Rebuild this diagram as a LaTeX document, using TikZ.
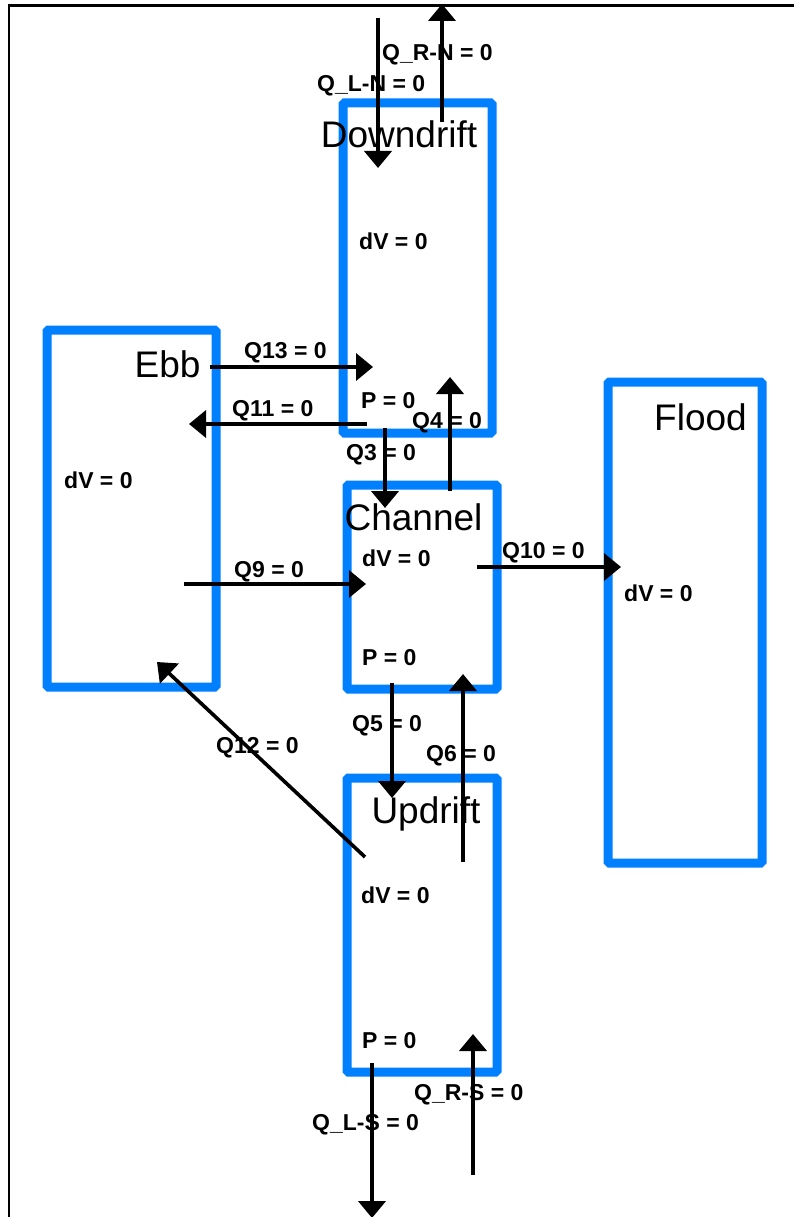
\documentclass[tikz,border=0pt]{standalone}
\usepackage{fontspec}
\setmainfont{Liberation Sans}
\usetikzlibrary{arrows.meta}
\definecolor{boxblue}{RGB}{0,128,255}
\tikzset{
  box/.style={draw=boxblue, line width=9pt, rectangle, inner sep=0pt, rounded corners=1.5pt},
  title/.style={anchor=base, inner sep=0pt, font=\fontsize{37}{40}\selectfont},
  lab/.style={anchor=base west, inner sep=0pt, font=\fontsize{23}{26}\selectfont\bfseries},
  flow/.style={draw=black, line width=3.6pt, -{Triangle[width=27pt,length=17pt]}},
  vflow/.style={flow, line width=4.6pt},
  frameline/.style={draw=black, line width=2.2pt}
}
\begin{document}
\begin{tikzpicture}[x=1pt,y=-1pt]
\useasboundingbox (0,0) rectangle (794,1217);
% frame
\coordinate (fl) at (9,1217);
\coordinate (fc) at (9,5.5);
\coordinate (fr) at (794,5.5);
\draw[frameline] (fl) -- (fc) -- (fr);
% boxes
\node[box, minimum width=149pt, minimum height=330pt] (down) at (417.5,268) {};
\node[box, minimum width=169pt, minimum height=357pt] (ebb) at (131.5,508.5) {};
\node[box, minimum width=150pt, minimum height=204pt] (chan) at (422,587) {};
\node[box, minimum width=150pt, minimum height=294pt] (up) at (422,925) {};
\node[box, minimum width=154pt, minimum height=481pt] (flood) at (685,622.5) {};
% titles
\node[title] (tdown) at (399,148) {Downdrift};
\node[title] (tebb) at (167.5,377) {Ebb};
\node[title] (tflood) at (700.5,430) {Flood};
\node[title] (tchan) at (413.5,530) {Channel};
\node[title] (tup) at (426,823) {Updrift};
% arrow coordinates
\coordinate (lnA) at (378,18);   \coordinate (lnB) at (378,168);
\coordinate (rnA) at (442,122);  \coordinate (rnB) at (442,4);
\coordinate (q13A) at (210,367); \coordinate (q13B) at (373,367);
\coordinate (q11A) at (367,424); \coordinate (q11B) at (189,424);
\coordinate (q3A) at (385,428);  \coordinate (q3B) at (385,508);
\coordinate (q4A) at (450,491);  \coordinate (q4B) at (450,377);
\coordinate (q9A) at (184,584);  \coordinate (q9B) at (366,584);
\coordinate (q10A) at (477,567); \coordinate (q10B) at (621,567);
\coordinate (q5A) at (392,683);  \coordinate (q5B) at (392,798);
\coordinate (q6A) at (463,862);  \coordinate (q6B) at (463,674);
\coordinate (q12A) at (365,857); \coordinate (q12B) at (157,662);
\coordinate (lsA) at (372,1063); \coordinate (lsB) at (372,1218);
\coordinate (rsA) at (473,1175); \coordinate (rsB) at (473,1034);
\draw[vflow] (lnA) -- (lnB);
\draw[vflow] (rnA) -- (rnB);
\draw[flow] (q13A) -- (q13B);
\draw[flow] (q11A) -- (q11B);
\draw[vflow] (q3A) -- (q3B);
\draw[vflow] (q4A) -- (q4B);
\draw[flow] (q9A) -- (q9B);
\draw[flow] (q10A) -- (q10B);
\draw[vflow] (q5A) -- (q5B);
\draw[vflow] (q6A) -- (q6B);
\draw[flow] (q12A) -- (q12B);
\draw[vflow] (lsA) -- (lsB);
\draw[vflow] (rsA) -- (rsB);
% labels
\node[lab] (lrn) at (382,61) {Q\_R-N = 0};
\node[lab] (lln) at (317,92) {Q\_L-N = 0};
\node[lab] (ldvd) at (359,249) {dV = 0};
\node[lab] (l13) at (244,358) {Q13 = 0};
\node[lab] (lpd) at (361,408) {P = 0};
\node[lab] (l11) at (232,416) {Q11 = 0};
\node[lab] (l4) at (412,428) {Q4 = 0};
\node[lab] (l3) at (346,460) {Q3 = 0};
\node[lab] (ldve) at (64,488) {dV = 0};
\node[lab] (ldvf) at (624,601) {dV = 0};
\node[lab] (ldvc) at (362,566) {dV = 0};
\node[lab] (l10) at (502,558) {Q10 = 0};
\node[lab] (l9) at (234,577) {Q9 = 0};
\node[lab] (lpc) at (362,665) {P = 0};
\node[lab] (l5) at (352,731) {Q5 = 0};
\node[lab] (l6) at (426,761) {Q6 = 0};
\node[lab] (l12) at (216,753) {Q12 = 0};
\node[lab] (ldvu) at (361,903) {dV = 0};
\node[lab] (lpu) at (362,1048) {P = 0};
\node[lab] (lrs) at (414,1100) {Q\_R-S = 0};
\node[lab] (lls) at (312,1130) {Q\_L-S = 0};
\end{tikzpicture}
\end{document}
